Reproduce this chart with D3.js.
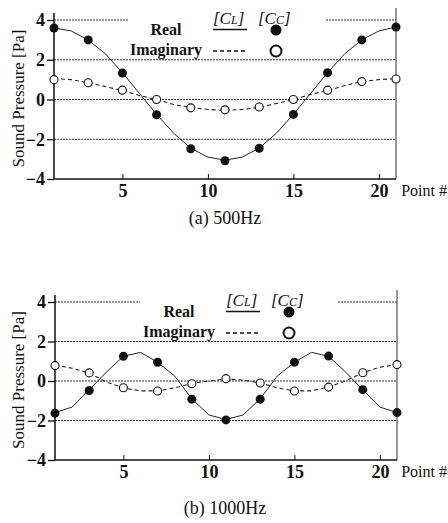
<!DOCTYPE html>
<html>
<head>
<meta charset="utf-8">
<script src="https://cdn.jsdelivr.net/npm/d3@7"></script>
<style>
	body { margin: 0; background: #fff; }
	svg { display: block; }
	text { font-family: "Liberation Serif", "Times New Roman", "DejaVu Serif", serif; fill: #111; }
</style>
</head>
<body>
<svg id="chart" width="448" height="523"></svg>
<script>
// point numbers along the duct
var pointNums = [1, 2, 3, 4, 5, 6, 7, 8, 9, 10, 11, 12, 13, 14, 15, 16, 17, 18, 19, 20, 21];
var measuredNums = [1, 3, 5, 7, 9, 11, 13, 15, 17, 19, 21];
var yTicks = [-4, -2, 0, 2, 4];
var xTicks = [5, 10, 15, 20];
var gridValues = [-2, 0, 2];

// [CL] lines, 500Hz
var real500Line = [3.6, 3.45, 3.0, 2.3, 1.35, 0.3, -0.75, -1.7, -2.45, -2.9, -3.05, -2.9, -2.45, -1.7, -0.75, 0.3, 1.35, 2.3, 3.0, 3.45, 3.65];
var imag500Line = [1.05, 1.0, 0.85, 0.65, 0.45, 0.2, 0.0, -0.25, -0.4, -0.5, -0.55, -0.5, -0.4, -0.2, 0.0, 0.25, 0.45, 0.7, 0.9, 1.0, 1.05];
// [CC] points, 500Hz
var real500Pts = [3.6, 3.0, 1.33, -0.77, -2.48, -3.08, -2.45, -0.75, 1.35, 3.0, 3.65];
var imag500Pts = [1.0, 0.84, 0.47, 0.0, -0.42, -0.52, -0.38, 0.0, 0.47, 0.9, 1.03];

// [CL] lines, 1000Hz
var real1000Line = [-1.6, -1.32, -0.45, 0.45, 1.25, 1.45, 0.95, 0.25, -0.9, -1.72, -1.95, -1.72, -0.9, 0.25, 0.95, 1.45, 1.25, 0.45, -0.45, -1.32, -1.6];
var imag1000Line = [0.8, 0.65, 0.4, -0.05, -0.35, -0.5, -0.5, -0.35, -0.12, 0.0, 0.1, 0.05, -0.1, -0.35, -0.5, -0.5, -0.3, 0.0, 0.42, 0.7, 0.83];
// [CC] points, 1000Hz
var real1000Pts = [-1.63, -0.48, 1.25, 0.95, -0.92, -1.97, -0.92, 0.95, 1.26, -0.44, -1.6];
var imag1000Pts = [0.78, 0.41, -0.34, -0.51, -0.14, 0.12, -0.1, -0.51, -0.31, 0.42, 0.83];

var captions = ['(a) 500Hz', '(b) 1000Hz'];
var legendLabels = ['Real', 'Imaginary'];

var svg = d3.select('#chart');

var panels = [
	{ top: 20, bottom: 179, left: 54, right: 396, gap: [128, 326], legendDx: 0, captionY: 224,
		lineRe: real500Line, lineIm: imag500Line, ptsRe: real500Pts, ptsIm: imag500Pts, caption: captions[0] },
	{ top: 302, bottom: 460, left: 55, right: 397, gap: [140, 338], legendDx: 13, captionY: 514,
		lineRe: real1000Line, lineIm: imag1000Line, ptsRe: real1000Pts, ptsIm: imag1000Pts, caption: captions[1] }
];

function drawPanel(p) {
	var x = d3.scaleLinear().domain([1, 21]).range([p.left, p.right]),
		y = d3.scaleLinear().domain([-4, 4]).range([p.bottom, p.top]),
		g = svg.append('g');

	// dotted gridlines
	g.selectAll('line.grid')
		.data(gridValues)
		.enter().append('line')
		.attr('class', 'grid')
		.attr('x1', p.left).attr('x2', p.right)
		.attr('y1', function (d) { return y(d); })
		.attr('y2', function (d) { return y(d); });

	// top gridline is broken for the legend
	g.selectAll('line.gridtop')
		.data([[p.left, p.gap[0]], [p.gap[1], p.right]])
		.enter().append('line')
		.attr('class', 'grid')
		.attr('x1', function (d) { return d[0]; })
		.attr('x2', function (d) { return d[1]; })
		.attr('y1', y(4)).attr('y2', y(4));

	g.selectAll('line.grid')
		.attr('stroke', '#333')
		.attr('stroke-width', 1)
		.attr('stroke-dasharray', '2,1');

	// right frame line
	g.append('line')
		.attr('x1', p.right).attr('x2', p.right)
		.attr('y1', y(4) - 12).attr('y2', y(-4))
		.attr('stroke', '#333').attr('stroke-width', 1);

	// left axis
	var yAxis = g.append('g')
		.attr('transform', 'translate(' + p.left + ',0)')
		.call(d3.axisLeft(y).tickValues(yTicks).tickSizeInner(7).tickSizeOuter(0).tickPadding(2)
			.tickFormat(d3.format('d')));
	yAxis.select('.domain').remove();
	yAxis.selectAll('line').attr('stroke', '#111').attr('stroke-width', 1.3);
	yAxis.selectAll('text').attr('font-size', 18).attr('font-weight', 'bold').attr('fill', '#111');
	g.append('line')
		.attr('x1', p.left).attr('x2', p.left)
		.attr('y1', y(4) - 7).attr('y2', y(-4))
		.attr('stroke', '#111').attr('stroke-width', 1.5);

	// bottom axis, ticks pointing inward
	var xAxis = g.append('g')
		.attr('transform', 'translate(0,' + p.bottom + ')')
		.call(d3.axisBottom(x).tickValues(xTicks).tickSizeInner(-5).tickSizeOuter(0).tickPadding(5));
	xAxis.select('.domain').remove();
	xAxis.selectAll('line').attr('stroke', '#111').attr('stroke-width', 1);
	xAxis.selectAll('text').attr('font-size', 18).attr('font-weight', 'bold').attr('fill', '#111');
	g.append('line')
		.attr('x1', p.left).attr('x2', p.right)
		.attr('y1', p.bottom).attr('y2', p.bottom)
		.attr('stroke', '#111').attr('stroke-width', 1.5);

	g.append('text')
		.attr('x', 447).attr('y', p.bottom + 17)
		.attr('text-anchor', 'end')
		.attr('font-size', 16)
		.text('Point #');

	g.append('text')
		.attr('transform', 'translate(24,' + (y(0) - 1) + ') rotate(-90)')
		.attr('text-anchor', 'middle')
		.attr('font-size', 17)
		.text('Sound Pressure [Pa]');

	// [CL] lines
	var line = d3.line()
		.x(function (d, i) { return x(pointNums[i]); })
		.y(function (d) { return y(d); });

	g.append('path').datum(p.lineRe)
		.attr('d', line).attr('fill', 'none')
		.attr('stroke', '#222').attr('stroke-width', 1);
	g.append('path').datum(p.lineIm)
		.attr('d', line).attr('fill', 'none')
		.attr('stroke', '#222').attr('stroke-width', 1.1)
		.attr('stroke-dasharray', '4,3');

	// [CC] markers
	g.selectAll('circle.im')
		.data(p.ptsIm)
		.enter().append('circle')
		.attr('class', 'im')
		.attr('cx', function (d, i) { return x(measuredNums[i]); })
		.attr('cy', function (d) { return y(d); })
		.attr('r', 4)
		.attr('fill', '#fff').attr('stroke', '#111').attr('stroke-width', 1.1);
	g.selectAll('circle.re')
		.data(p.ptsRe)
		.enter().append('circle')
		.attr('class', 're')
		.attr('cx', function (d, i) { return x(measuredNums[i]); })
		.attr('cy', function (d) { return y(d); })
		.attr('r', 4.5)
		.attr('fill', '#111');

	// legend
	var lx = p.legendDx, ly = y(4);
	var hdr = g.append('text')
		.attr('x', 213 + lx).attr('y', ly + 4)
		.attr('font-size', 17).attr('font-style', 'italic');
	hdr.append('tspan').text('[C');
	hdr.append('tspan').attr('font-size', 12).text('L');
	hdr.append('tspan').text(']');
	var hdr2 = g.append('text')
		.attr('x', 258 + lx).attr('y', ly + 4)
		.attr('font-size', 17).attr('font-style', 'italic');
	hdr2.append('tspan').text('[C');
	hdr2.append('tspan').attr('font-size', 12).text('C');
	hdr2.append('tspan').text(']');

	g.selectAll('text.leg')
		.data(legendLabels)
		.enter().append('text')
		.attr('class', 'leg')
		.attr('x', 166 + lx)
		.attr('y', function (d, i) { return ly + 14.5 + i * 20.5; })
		.attr('text-anchor', 'middle')
		.attr('font-size', 16).attr('font-weight', 'bold')
		.text(function (d) { return d; });

	g.append('line')
		.attr('x1', 213 + lx).attr('x2', 247 + lx)
		.attr('y1', ly + 9.5).attr('y2', ly + 9.5)
		.attr('stroke', '#111').attr('stroke-width', 1.5);
	g.append('line')
		.attr('x1', 213 + lx).attr('x2', 248 + lx)
		.attr('y1', ly + 31).attr('y2', ly + 31)
		.attr('stroke', '#111').attr('stroke-width', 1.5)
		.attr('stroke-dasharray', '4,3');
	g.append('circle')
		.attr('cx', 276 + lx).attr('cy', ly + 10).attr('r', 5.5)
		.attr('fill', '#111');
	g.append('circle')
		.attr('cx', 276 + lx).attr('cy', ly + 31).attr('r', 5.5)
		.attr('fill', '#fff').attr('stroke', '#111').attr('stroke-width', 2);

	svg.append('text')
		.attr('x', 225).attr('y', p.captionY)
		.attr('text-anchor', 'middle')
		.attr('font-size', 18)
		.text(p.caption);
}

panels.forEach(drawPanel);
</script>
</body>
</html>
